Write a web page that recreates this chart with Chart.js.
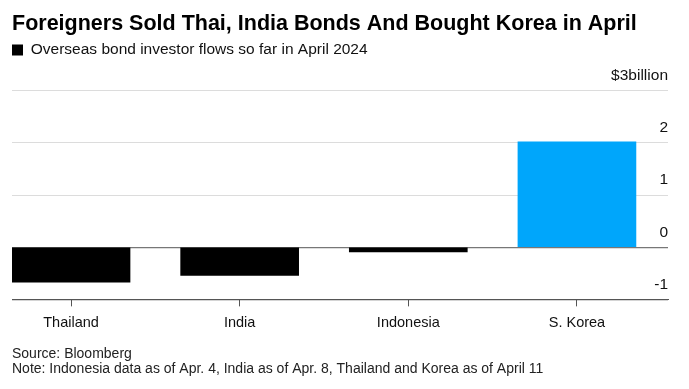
<!DOCTYPE html>
<html>
<head>
<meta charset="utf-8">
<script src="https://cdn.jsdelivr.net/npm/chart.js@4.4.0/dist/chart.umd.min.js"></script>
<style>
html,body{margin:0;padding:0;background:#fff;}
#wrap{width:689px;height:389px;}
</style>
</head>
<body>
<div id="wrap"><canvas id="c" width="689" height="389"></canvas></div>
<script>
const categories = ['Thailand', 'India', 'Indonesia', 'S. Korea'];
const flows = [-0.67, -0.54, -0.09, 2.02];
const barColors = ['#000000', '#000000', '#000000', '#00a6fb'];
const yTicks = [-1, 0, 1, 2, 3];
const seriesLabel = 'Overseas bond investor flows so far in April 2024';
const titleText = 'Foreigners Sold Thai, India Bonds And Bought Korea in April';
const footLines = ['Source: Bloomberg', 'Note: Indonesia data as of Apr. 4, India as of Apr. 8, Thailand and Korea as of April 11'];

const FONT = "'Liberation Sans', Arial, Helvetica, sans-serif";

const legendGap = {
  id: 'legendGap',
  beforeLayout(chart) {
    const lg = chart.legend;
    if (lg && !lg._gapWrapped) {
      const orig = lg.fit;
      lg.fit = function () { orig.call(this); this.height += 23; };
      lg._gapWrapped = true;
    }
  }
};

new Chart(document.getElementById('c'), {
  type: 'bar',
  data: {
    datasets: [{
      label: seriesLabel,
      data: categories.map((c, i) => ({x: i, y: flows[i]})),
      backgroundColor: barColors,
      borderWidth: 0,
      barThickness: 118
    }]
  },
  plugins: [legendGap],
  options: {
    responsive: false,
    animation: false,
    devicePixelRatio: 1,
    layout: {padding: {left: 12, right: 21, top: 0, bottom: 0}},
    plugins: {
      title: {
        display: true,
        text: titleText,
        align: 'start',
        color: '#000',
        font: {family: FONT, size: 21.5, weight: 'bold', lineHeight: 1.2},
        padding: {top: 11, bottom: 5.5}
      },
      legend: {
        display: true,
        position: 'top',
        align: 'start',
        labels: {
          boxWidth: 11,
          boxHeight: 11,
          padding: 0,
          color: '#111',
          font: {family: FONT, size: 15.5}
        }
      },
      subtitle: {
        display: true,
        position: 'bottom',
        align: 'start',
        text: footLines,
        color: '#222',
        font: {family: FONT, size: 14, lineHeight: 1.08},
        padding: {top: 7, bottom: 12}
      },
      tooltip: {enabled: false}
    },
    scales: {
      x: {
        type: 'linear',
        min: -0.35,
        max: 3.54,
        offset: false,
        afterBuildTicks: (axis) => { axis.ticks = categories.map((c, i) => ({value: i})); },
        grid: {offset: false, drawOnChartArea: false, drawTicks: true, tickLength: 7, color: '#555'},
        border: {display: true, color: '#555', width: 1},
        ticks: {
          autoSkip: false,
          maxRotation: 0,
          padding: 8,
          color: '#111',
          font: {family: FONT, size: 14.5},
          callback: (v) => categories[v]
        }
      },
      y: {
        position: 'right',
        min: -1,
        max: 3,
        afterBuildTicks: (axis) => { axis.ticks = yTicks.map(v => ({value: v})); },
        grid: {
          drawTicks: false,
          color: (ctx) => ctx.tick && ctx.tick.value === 0 ? '#777' : (ctx.tick && ctx.tick.value === -1 ? '#555' : '#dcdcdc'),
          lineWidth: (ctx) => ctx.tick && (ctx.tick.value === 0 || ctx.tick.value === -1) ? 1.2 : 1
        },
        border: {display: false},
        ticks: {
          mirror: true,
          padding: 0,
          labelOffset: -15,
          color: '#111',
          font: {family: FONT, size: 15.5},
          callback: (v) => v === 3 ? '$3billion' : String(v)
        }
      }
    }
  }
});
</script>
</body>
</html>
